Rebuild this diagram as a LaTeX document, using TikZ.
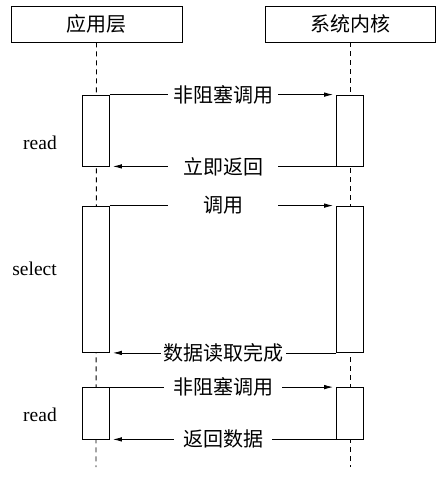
\documentclass[tikz,border=0pt]{standalone}
\usepackage{fontspec}
\setmainfont{Liberation Serif}
\newfontfamily\cjk{Noto Sans CJK SC}
\usetikzlibrary{arrows.meta}
\tikzset{
  head/.style={draw, line width=0.8pt, minimum width=171pt, minimum height=36pt, inner sep=0pt, font=\cjk\fontsize{20}{23}\selectfont},
  actbox/.style={draw, fill=white, line width=0.8pt, minimum width=27pt, inner sep=0pt},
  life/.style={line width=0.9pt, dash pattern=on 5pt off 4pt},
  msg/.style={line width=0.8pt, -{Latex[length=9pt,width=4.5pt]}, shorten >=3pt},
  msgtext/.style={fill=white, inner sep=0pt, minimum height=20pt, minimum width=110pt, font=\cjk\fontsize{20}{23}\selectfont},
  call/.style={font=\fontsize{19.5}{22}\selectfont, anchor=east, inner sep=0pt}
}
\begin{document}
\begin{tikzpicture}[x=1pt,y=-1pt]
      \useasboundingbox (0,0) rectangle (447,477);
      \node[head] (app) at (96.5,24) {应用层};
      \node[head, minimum width=170pt] (kernel) at (350,24) {系统内核};
      \coordinate (append) at (96,467);
      \coordinate (kernelend) at (350,467);
      \draw[life] (app.south) -- (append);
      \draw[life] (kernel.south) -- (kernelend);
      % activation boxes
      \node[actbox, minimum height=71pt] (a1) at (96,130.5) {};
      \node[actbox, minimum height=71pt] (k1) at (350,130.5) {};
      \node[actbox, minimum height=146.5pt] (a2) at (96,279.25) {};
      \node[actbox, minimum height=146.5pt] (k2) at (350,279.25) {};
      \node[actbox, minimum height=51.5pt] (a3) at (96,413.25) {};
      \node[actbox, minimum height=51.5pt] (k3) at (350,413.25) {};
      % messages
      \draw[msg] (a1.north east) -- node[msgtext] {非阻塞调用} (k1.north west);
      \draw[msg] (k1.south west) -- node[msgtext] {立即返回} (a1.south east);
      \draw[msg] (a2.north east) -- node[msgtext] {调用} (k2.north west);
      \draw[msg] (k2.south west) -- node[msgtext, minimum width=125pt] {数据读取完成} (a2.south east);
      \draw[msg] (a3.north east) -- node[msgtext, minimum width=118pt] {非阻塞调用} (k3.north west);
      \draw[msg] (k3.south west) -- node[msgtext, minimum width=98pt] {返回数据} (a3.south east);
      % calls
      \node[call] (read1) at (57,143) {read};
      \node[call] (select) at (57,269) {select};
      \node[call] (read2) at (57,415) {read};
    \end{tikzpicture}
\end{document}
